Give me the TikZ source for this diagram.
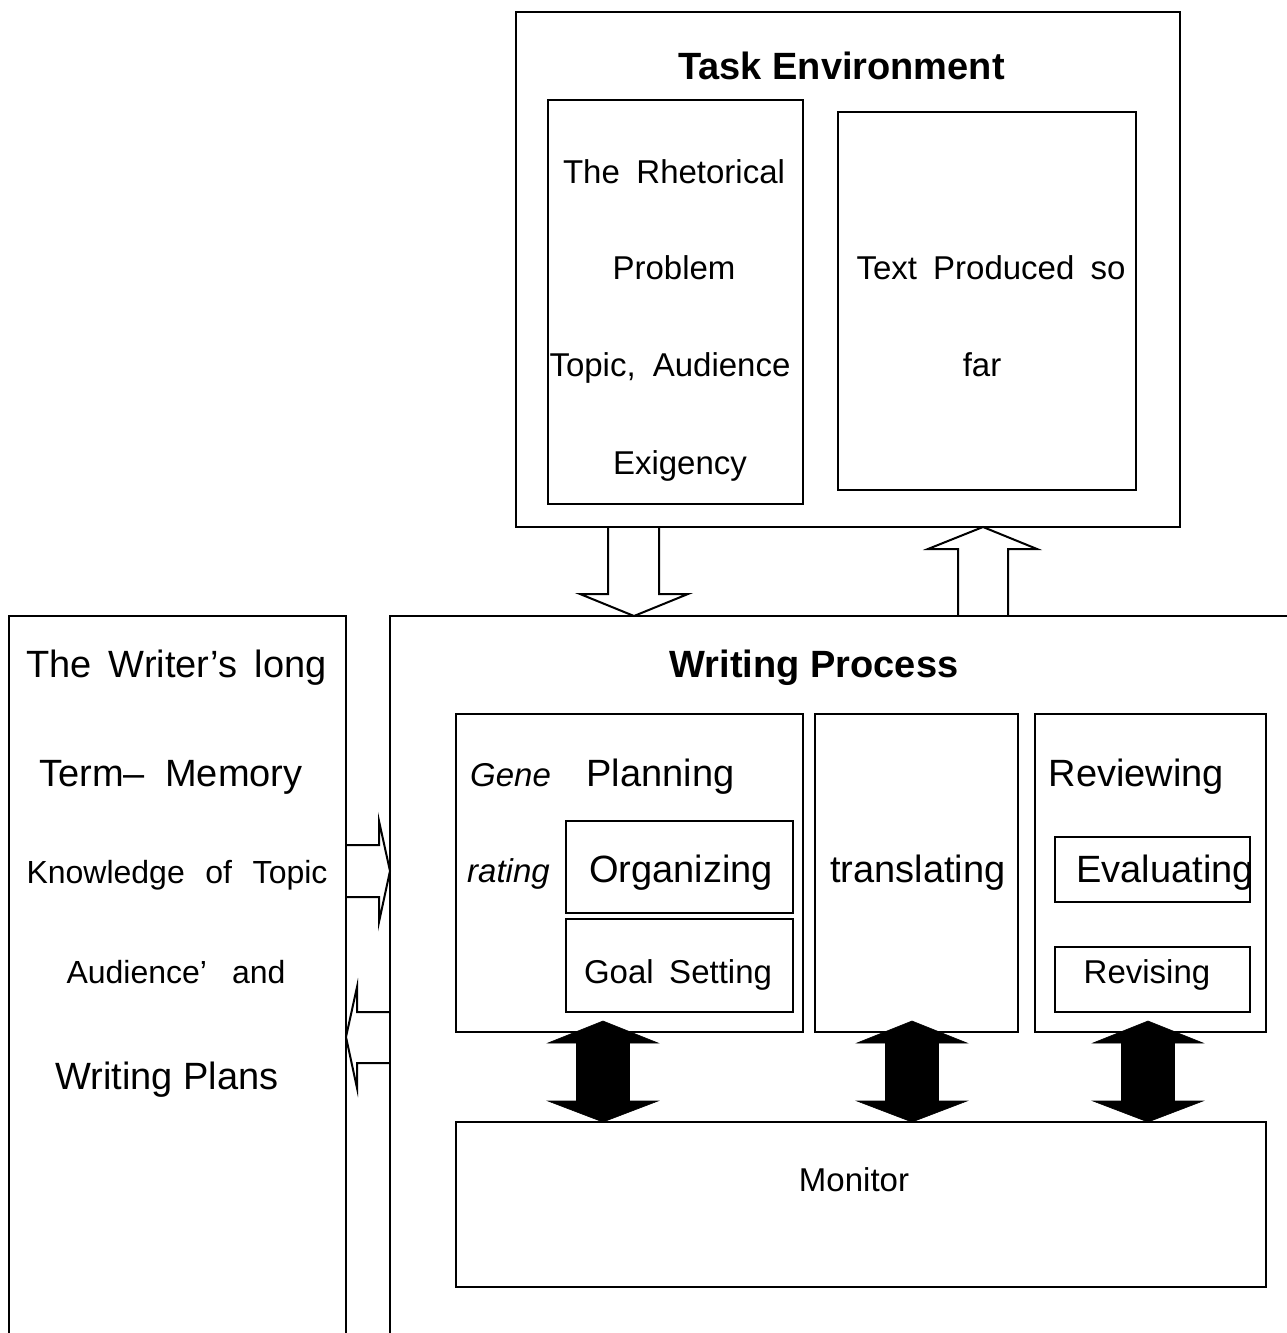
\documentclass[tikz,border=0pt]{standalone}
\usepackage{fontspec}
\setmainfont{Liberation Sans}
\usetikzlibrary{fit}
\newcommand\fs[1]{\fontsize{#1}{#1}\selectfont}
\begin{document}
\begin{tikzpicture}[x=1pt,y=-1pt,line width=2pt,line join=miter,
  bx/.style={draw,inner sep=0pt,line width=2pt},
  txt/.style={anchor=base,inner sep=0pt},
  hollow/.style={draw,line width=2pt,line join=miter},
  blk/.style={fill=black,draw=black,line width=0.6pt}]
\useasboundingbox (0,0) rectangle (1286,1333);
\fill[white] (0,0) rectangle (1286,1333);

% ---- Task environment ----
\node[bx,fit={(516,12) (1180,527)}] (te) {};
\node[bx,fit={(548,100) (803,504)}] (rp) {};
\node[bx,fit={(838,112) (1136,490)}] (tp) {};
\node[txt] (t0) at (841.5,79) {\fs{38}\bfseries Task Environment};
\node[txt] (r1) at (674,183) {\fs{33}\makebox[222pt][s]{The Rhetorical}};
\node[txt] (r2) at (674,279) {\fs{33}Problem};
\node[txt] (r3) at (670,376) {\fs{33}\makebox[241pt][s]{Topic, Audience}};
\node[txt] (r4) at (680,474) {\fs{33}Exigency};
\node[txt] (p1) at (991,279) {\fs{33}\makebox[269pt][s]{Text Produced so}};
\node[txt] (p2) at (982,376) {\fs{33}far};

% ---- Long-term memory ----
\draw (9,1334) -- (9,616) -- (346,616) -- (346,1334);
\node[txt] (m1) at (176.5,677) {\fs{38}\makebox[300pt][s]{The Writer’s long}};
\node[txt] (m2) at (171,786) {\fs{38}\makebox[263pt][s]{Term– Memory}};
\node[txt] (m3) at (177,883) {\fs{32}\makebox[301pt][s]{Knowledge of Topic}};
\node[txt] (m4) at (176,983) {\fs{32}\makebox[219pt][s]{Audience’ and}};
\node[txt] (m5) at (167,1089) {\fs{38}Writing Plans};

% ---- Writing process ----
\draw (390,1334) -- (390,616) -- (1287,616);
\node[txt] (w0) at (814,677) {\fs{38}\bfseries Writing Process};
\node[bx,fit={(456,714) (803,1032)}] (plan) {};
\node[bx,fit={(815,714) (1018,1032)}] (tran) {};
\node[bx,fit={(1035,714) (1266,1032)}] (rev) {};
\node[bx,fit={(566,821) (793,913)}] (org) {};
\node[bx,fit={(566,919) (793,1012)}] (goal) {};
\node[bx,fit={(1055,837) (1250,902)}] (eval) {};
\node[bx,fit={(1055,947) (1250,1012)}] (revs) {};
\node[bx,fit={(456,1122) (1266,1287)}] (mon) {};

\node[txt] (g1) at (510.5,786) {\fs{33}\itshape Gene};
\node[txt] (g2) at (508.5,882) {\fs{33}\itshape rating};
\node[txt] (pl) at (660.5,786) {\fs{38}Planning};
\node[txt] (og) at (681,882) {\fs{38}Organizing};
\node[txt] (gs) at (678,983) {\fs{33}\makebox[188pt][s]{Goal Setting}};
\node[txt] (tr) at (918,882) {\fs{38}translating};
\node[txt] (rv) at (1136.5,786) {\fs{38}Reviewing};
\node[txt] (ev) at (1165,882) {\fs{38}Evaluating};
\node[txt] (rs) at (1147,983) {\fs{33}Revising};
\node[txt] (mt) at (854,1191) {\fs{33}Monitor};

% ---- hollow block arrows ----
\draw[hollow] (608,527) -- (608,594) -- (580,594) -- (634,616) -- (688,594) -- (659,594) -- (659,527);
\draw[hollow] (958,616) -- (958,549) -- (928,549) -- (983,527) -- (1037,549) -- (1008,549) -- (1008,616);
\draw[hollow] (346,845) -- (379,845) -- (379,821) -- (390,871) -- (379,922) -- (379,897) -- (346,897);
\draw[hollow] (390,1012) -- (357,1012) -- (357,987) -- (346,1037) -- (357,1088) -- (357,1063) -- (390,1063);

% ---- black double arrows ----
\foreach \cx in {603,912,1148}{
  \filldraw[blk] (\cx,1021) -- (\cx+55,1043) -- (\cx+26.5,1043) -- (\cx+26.5,1101)
    -- (\cx+55,1101) -- (\cx,1122) -- (\cx-55,1101) -- (\cx-26.5,1101)
    -- (\cx-26.5,1043) -- (\cx-55,1043) -- cycle;
}
\end{tikzpicture}
\end{document}
